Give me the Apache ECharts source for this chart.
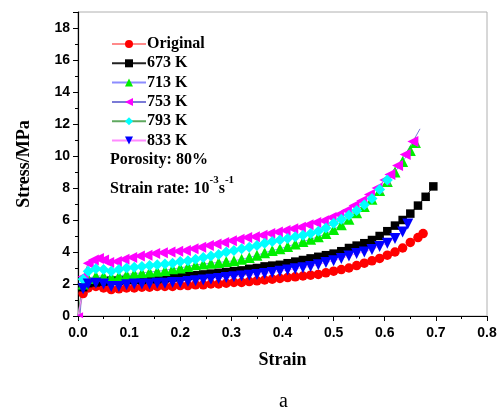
<!DOCTYPE html>
<html>
<head>
<meta charset="utf-8">
<script src="https://cdn.jsdelivr.net/npm/echarts@6/dist/echarts.min.js"></script>
<style>html,body{margin:0;padding:0;background:#fff}#c{width:500px;height:410px}</style>
</head>
<body>
<div id="c"></div>
<script>
const seriesNames = ['Original', '673 K', '713 K', '753 K', '793 K', '833 K'];

const strainOriginal = [0,0.01,0.02,0.035,0.05,0.065,0.08,0.095,0.11,0.125,0.14,0.155,0.17,0.185,0.2,0.215,0.23,0.245,0.26,0.275,0.29,0.305,0.32,0.335,0.35,0.365,0.38,0.395,0.41,0.425,0.44,0.455,0.47,0.485,0.5,0.515,0.53,0.545,0.56,0.575,0.59,0.605,0.62,0.635,0.65,0.665,0.675];
const stressOriginal = [0,1.4,1.75,1.85,1.75,1.65,1.7,1.75,1.75,1.8,1.8,1.85,1.85,1.85,1.9,1.9,1.95,1.95,2.0,2.0,2.05,2.1,2.1,2.15,2.2,2.25,2.3,2.35,2.4,2.45,2.5,2.55,2.6,2.7,2.8,2.9,3.0,3.15,3.3,3.45,3.6,3.8,4.0,4.25,4.6,4.9,5.15];

const strain673 = [0,0.01,0.02,0.035,0.05,0.065,0.08,0.095,0.11,0.125,0.14,0.155,0.17,0.185,0.2,0.215,0.23,0.245,0.26,0.275,0.29,0.305,0.32,0.335,0.35,0.365,0.38,0.395,0.41,0.425,0.44,0.455,0.47,0.485,0.5,0.515,0.53,0.545,0.56,0.575,0.59,0.605,0.62,0.635,0.65,0.665,0.68,0.695];
const stress673 = [0,1.8,2.05,2.1,2.15,2.2,2.2,2.25,2.25,2.25,2.3,2.3,2.35,2.4,2.45,2.5,2.55,2.6,2.65,2.7,2.75,2.8,2.85,2.95,3.0,3.1,3.15,3.2,3.3,3.4,3.5,3.6,3.7,3.8,3.9,4.05,4.25,4.4,4.55,4.75,5.0,5.3,5.65,6.0,6.4,6.9,7.45,8.1];

const strain713 = [0,0.01,0.02,0.035,0.05,0.065,0.08,0.095,0.11,0.125,0.14,0.155,0.17,0.185,0.2,0.215,0.23,0.245,0.26,0.275,0.29,0.305,0.32,0.335,0.35,0.365,0.38,0.395,0.41,0.425,0.44,0.455,0.47,0.485,0.5,0.515,0.53,0.545,0.56,0.575,0.59,0.605,0.62,0.635,0.65,0.66];
const stress713 = [0,2.0,2.35,2.5,2.5,2.45,2.5,2.6,2.65,2.7,2.75,2.8,2.85,2.95,3.0,3.1,3.2,3.25,3.3,3.35,3.4,3.45,3.55,3.65,3.8,3.95,4.1,4.2,4.35,4.5,4.65,4.8,4.95,5.15,5.4,5.7,6.05,6.45,6.85,7.3,7.85,8.4,9.0,9.65,10.35,10.85];

const strain753 = [0.004,0.01,0.02,0.03,0.04,0.05,0.06,0.075,0.09,0.105,0.12,0.135,0.15,0.165,0.18,0.195,0.21,0.225,0.24,0.255,0.27,0.285,0.3,0.315,0.33,0.345,0.36,0.375,0.39,0.405,0.42,0.435,0.45,0.465,0.48,0.495,0.51,0.525,0.54,0.555,0.57,0.585,0.6,0.61,0.625,0.64,0.655];
const stress753 = [0.05,2.45,3.3,3.5,3.6,3.5,3.35,3.4,3.55,3.65,3.75,3.8,3.9,3.95,4.0,4.05,4.1,4.2,4.3,4.4,4.5,4.6,4.7,4.8,4.9,4.95,5.05,5.15,5.25,5.35,5.45,5.55,5.7,5.85,5.95,6.15,6.35,6.6,6.9,7.2,7.6,8.0,8.5,8.85,9.4,10.1,10.9];
const tail753 = [0.669, 11.7];

const strain793 = [0,0.01,0.02,0.035,0.05,0.065,0.08,0.095,0.11,0.125,0.14,0.155,0.17,0.185,0.2,0.215,0.23,0.245,0.26,0.275,0.29,0.305,0.32,0.335,0.35,0.365,0.38,0.395,0.41,0.425,0.44,0.455,0.47,0.485,0.5,0.515,0.53,0.545,0.56,0.575,0.59,0.605];
const stress793 = [0,2.3,2.8,2.95,2.9,2.8,2.9,3.0,3.05,3.1,3.15,3.2,3.25,3.3,3.4,3.45,3.55,3.65,3.75,3.85,4.0,4.1,4.2,4.3,4.4,4.55,4.65,4.75,4.85,4.95,5.05,5.15,5.3,5.5,5.8,6.05,6.3,6.6,6.95,7.35,7.9,8.5];

const strain833 = [0,0.01,0.02,0.035,0.05,0.065,0.08,0.095,0.11,0.125,0.14,0.155,0.17,0.185,0.2,0.215,0.23,0.245,0.26,0.275,0.29,0.305,0.32,0.335,0.35,0.365,0.38,0.395,0.41,0.425,0.44,0.455,0.47,0.485,0.5,0.515,0.53,0.545,0.56,0.575,0.59,0.605,0.62,0.635,0.645];
const stress833 = [0,1.7,2.0,2.05,2.0,1.85,1.85,1.95,2.0,2.0,2.0,2.05,2.05,2.1,2.1,2.15,2.2,2.25,2.3,2.35,2.4,2.45,2.5,2.55,2.6,2.65,2.72,2.8,2.87,2.95,3.02,3.1,3.2,3.35,3.45,3.6,3.75,3.9,4.0,4.15,4.35,4.55,4.85,5.25,5.75];

const xTicks = [0, 0.1, 0.2, 0.3, 0.4, 0.5, 0.6, 0.7, 0.8];
const yTicks = [0, 2, 4, 6, 8, 10, 12, 14, 16, 18];

const markerColors = ['#ff0000', '#000000', '#00ee00', '#ff00ff', '#00ffff', '#0000ff'];
const lineColors = ['#ff8a8a', '#222222', '#8c8cff', '#7a7ad6', '#5fa85f', '#ff8aff'];
const symbols = ['circle', 'rect', 'triangle', 'path://M0,5L10,0L10,10Z', 'diamond', 'path://M0,0L10,0L5,10Z'];
const symbolSizes = [9.5, 8.5, 11, 11, 11, 11];

function pairs(xs, ys) { return xs.map((x, i) => [x, ys[i]]); }

const allData = [
  pairs(strainOriginal, stressOriginal),
  pairs(strain673, stress673),
  pairs(strain713, stress713),
  pairs(strain753, stress753),
  pairs(strain793, stress793),
  pairs(strain833, stress833)
];

const series = allData.map((d, i) => {
  const data = d.map((p, j) => {
    if (j === 0 && p[0] === 0 && p[1] === 0) return { value: p, symbol: 'none' };
    return p;
  });
  if (i === 3) {
    data[0] = { value: data[0], symbolSize: 6 };
    data.unshift({ value: [0, 0], symbol: 'none' });
    data.push({ value: tail753, symbol: 'none' });
  }
  return {
    name: seriesNames[i],
    type: 'line',
    data: data,
    symbol: symbols[i],
    symbolSize: symbolSizes[i],
    showAllSymbol: true,
    lineStyle: { color: lineColors[i], width: 1 },
    itemStyle: { color: markerColors[i] },
    emphasis: { disabled: true },
    animation: false
  };
});

const serif = '"Liberation Serif", "Times New Roman", serif';
const sans = '"Liberation Sans", Arial, sans-serif';

const chart = echarts.init(document.getElementById('c'), null, { renderer: 'canvas' });
chart.setOption({
  animation: false,
  backgroundColor: '#fff',
  grid: { left: 78, right: 13, top: 12, bottom: 94, show: true, borderColor: '#b0b0b0', borderWidth: 1 },
  legend: {
    orient: 'vertical',
    left: 106,
    top: 31,
    itemWidth: 34,
    itemHeight: 10,
    itemGap: 3.3,
    data: seriesNames,
    textStyle: { fontFamily: serif, fontWeight: 'bold', fontSize: 16, color: '#000', lineHeight: 16, padding: [0, 0, 0, -4] }
  },
  xAxis: {
    type: 'value',
    min: xTicks[0],
    max: xTicks[xTicks.length - 1],
    interval: 0.1,
    name: 'Strain',
    nameLocation: 'middle',
    nameGap: 35,
    nameTextStyle: { fontFamily: serif, fontWeight: 'bold', fontSize: 18, color: '#000' },
    axisLine: { show: true, lineStyle: { color: '#000', width: 1.2 } },
    axisTick: { show: true, inside: false, length: 5, lineStyle: { color: '#000' } },
    minorTick: { show: true, splitNumber: 2, length: 3, lineStyle: { color: '#000' } },
    splitLine: { show: false },
    axisLabel: { fontFamily: sans, fontWeight: 'bold', fontSize: 14, color: '#000', margin: 10, formatter: v => v.toFixed(1) }
  },
  yAxis: {
    type: 'value',
    min: yTicks[0],
    max: 19,
    interval: 2,
    name: 'Stress/MPa',
    nameLocation: 'middle',
    nameGap: 45,
    nameTextStyle: { fontFamily: serif, fontWeight: 'bold', fontSize: 18, color: '#000' },
    axisLine: { show: true, lineStyle: { color: '#000', width: 1.2 } },
    axisTick: { show: true, inside: false, length: 5, lineStyle: { color: '#000' } },
    minorTick: { show: true, splitNumber: 2, length: 3, lineStyle: { color: '#000' } },
    splitLine: { show: false },
    axisLabel: { fontFamily: sans, fontWeight: 'bold', fontSize: 14, color: '#000', margin: 8,
      formatter: v => (yTicks.indexOf(v) >= 0 ? String(v) : '') }
  },
  graphic: [
    { type: 'text', left: 110, top: 152, style: { text: 'Porosity: 80%', font: 'bold 16px ' + serif, fill: '#000' } },
    { type: 'text', left: 110, top: 175, style: {
        text: '{a|Strain rate: 10}{s|-3}{a|s}{s|-1}',
        rich: {
          a: { fontFamily: serif, fontWeight: 'bold', fontSize: 16, fill: '#000', lineHeight: 22, verticalAlign: 'bottom' },
          s: { fontFamily: serif, fontWeight: 'bold', fontSize: 11, fill: '#000', lineHeight: 22, verticalAlign: 'top' }
        }
      } },
    { type: 'text', left: 279, top: 392, style: { text: 'a', font: '20px ' + serif, fill: '#000' } }
  ],
  series: series
});
</script>
</body>
</html>
